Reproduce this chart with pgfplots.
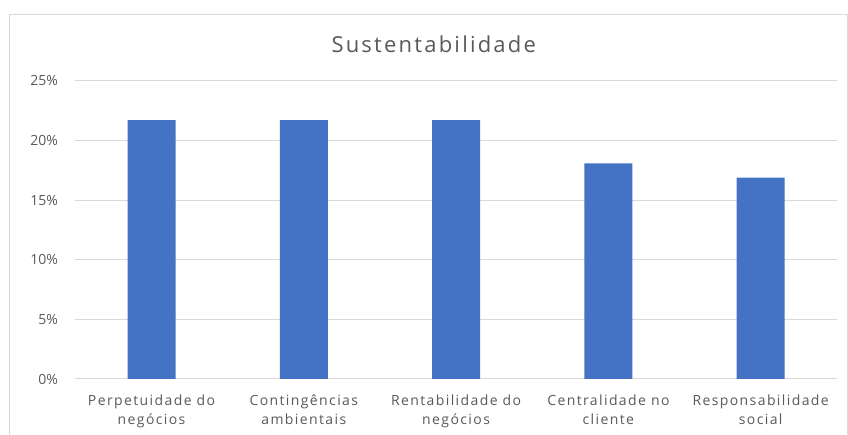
\documentclass[border=0pt]{standalone}
\usepackage{pgfplots}
\pgfplotsset{compat=1.18}
\usepackage{fontspec}
\setmainfont{Open Sans}
\newfontfamily\lsfont{Open Sans}[LetterSpace=10]
\definecolor{barblue}{HTML}{4472C4}
\definecolor{txtgray}{HTML}{595959}
\definecolor{gridgray}{HTML}{D9D9D9}
\begin{document}
\begin{tikzpicture}[x=1pt,y=1pt]
\path[use as bounding box] (0,0) rectangle (848,435);
\draw[gridgray, line width=1pt] (9,0) -- (9,420) -- (847,420) -- (847,0);
\node[anchor=base, text=txtgray, font=\lsfont\fontsize{22}{26}\selectfont] at (433.7,382) {Sustentabilidade};
\begin{axis}[
  at={(75.4pt,56pt)}, anchor=south west,
  scale only axis, width=761.4pt, height=298.3pt,
  ybar, bar width=48pt,
  xmin=-0.5, xmax=4.5, ymin=0, ymax=25,
  xtick=data,
  xticklabels={{Perpetuidade do\\negócios},{Contingências\\ambientais},{Rentabilidade do\\negócios},{Centralidade no\\cliente},{Responsabilidade\\social}},
  ytick={0,5,10,15,20,25},
  yticklabel={\pgfmathprintnumber{\tick}\%},
  /pgf/number format/assume math mode=true,
  ymajorgrids, grid style={gridgray, line width=1pt},
  axis x line=bottom, axis y line=left,
  axis line style={-},
  x axis line style={gridgray, line width=1pt},
  y axis line style={draw=none},
  major tick length=0pt,
  tick label style={text=txtgray, font=\fontsize{14}{19}\selectfont},
  xticklabel style={align=center, yshift=-12pt, font=\lsfont\fontsize{14}{19}\selectfont},
  yticklabel style={xshift=-14pt},
]
\addplot[fill=barblue, draw=none] coordinates {(0,21.69) (1,21.69) (2,21.69) (3,18.07) (4,16.87)};
\end{axis}
\end{tikzpicture}
\end{document}
